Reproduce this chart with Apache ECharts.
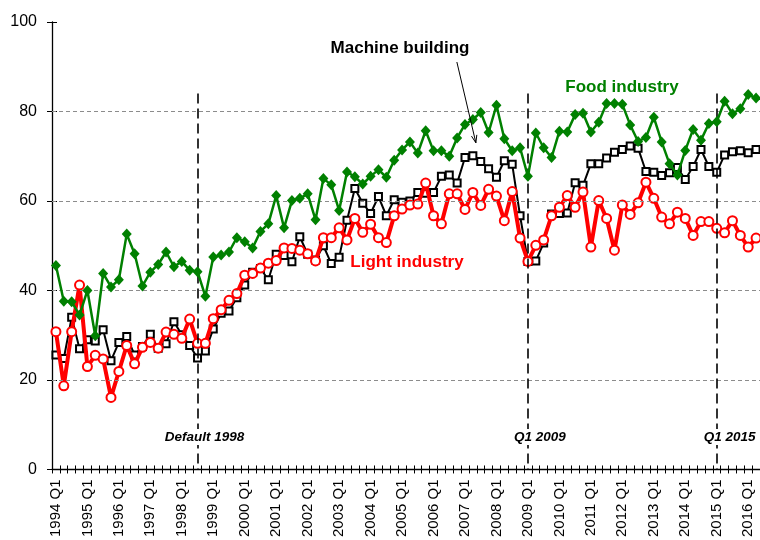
<!DOCTYPE html>
<html><head><meta charset="utf-8">
<script src="https://cdn.jsdelivr.net/npm/echarts@6/dist/echarts.min.js"></script>
<style>html,body{margin:0;padding:0;background:#fff}#c{width:760px;height:540px}</style>
</head><body><div id="c"></div>
<script>
// Quarters 1994 Q1 .. 2016 Q2
const firstYear = 1994, lastYear = 2016, lastQuarter = 2;
const categories = [];
for (let y = firstYear; y <= lastYear; y++) {
  for (let q = 1; q <= 4; q++) {
    if (y === lastYear && q > lastQuarter) break;
    categories.push(y + ' Q' + q);
  }
}

const foodIndustry = [
  45.6, 37.6, 37.5, 34.5, 40.0, 29.9, 43.8, 40.8, 42.4, 52.6,
  48.2, 41.0, 44.1, 45.8, 48.6, 45.3, 46.5, 44.5, 44.2, 38.7,
  47.5, 47.9, 48.6, 51.8, 50.9, 49.5, 53.2, 54.9, 61.2, 54.0,
  60.1, 60.6, 61.6, 55.8, 65.0, 63.6, 57.9, 66.5, 65.4, 63.8,
  65.5, 67.0, 65.3, 69.1, 71.4, 73.2, 70.7, 75.7, 71.2, 71.2,
  70.0, 74.1, 77.1, 78.2, 79.8, 75.3, 81.4, 73.9, 71.2, 71.9,
  65.5, 75.2, 71.9, 69.7, 75.6, 75.4, 79.3, 79.6, 75.4, 77.6,
  81.8, 81.8, 81.6, 77.0, 73.3, 74.2, 78.7, 73.2, 68.3, 65.8,
  71.3, 76.0, 73.6, 77.3, 77.7, 82.3, 79.5, 80.6, 83.8, 83.0
];
const machineBuilding = [
  25.6, 24.8, 34.0, 27.0, 29.0, 28.7, 31.2, 24.3, 28.4, 29.7,
  25.6, 27.5, 30.2, 27.1, 28.1, 33.0, 30.1, 27.7, 24.9, 26.5,
  31.4, 34.9, 35.4, 38.4, 41.2, 44.1, 44.9, 42.4, 48.1, 47.8,
  46.4, 52.0, 48.1, 46.8, 50.0, 46.0, 47.4, 55.7, 62.8, 59.5,
  57.2, 61.0, 56.7, 60.3, 59.7, 60.0, 61.9, 61.7, 61.9, 65.5,
  65.8, 64.0, 69.7, 70.1, 68.8, 67.2, 65.3, 69.0, 68.2, 56.7,
  46.5, 46.6, 50.6, 57.1, 57.2, 57.3, 64.1, 63.5, 68.3, 68.3,
  69.6, 70.9, 71.5, 72.3, 71.8, 66.6, 66.4, 65.7, 66.3, 67.5,
  64.8, 67.7, 71.5, 67.7, 66.4, 70.3, 71.0, 71.2, 70.8, 71.5
];
const lightIndustry = [
  30.8, 18.7, 30.8, 41.2, 23.0, 25.5, 24.7, 16.1, 21.9, 27.7,
  23.6, 27.3, 28.4, 27.1, 30.7, 30.2, 29.3, 33.6, 28.2, 28.2,
  33.7, 35.7, 37.8, 39.3, 43.4, 43.8, 45.0, 46.1, 46.7, 49.5,
  49.4, 49.0, 48.2, 46.6, 51.8, 51.8, 54.0, 51.3, 56.1, 53.0,
  54.8, 51.8, 50.7, 56.7, 58.2, 59.1, 59.3, 64.0, 56.7, 54.9,
  61.6, 61.6, 58.1, 61.9, 59.0, 62.6, 61.1, 55.6, 62.1, 51.7,
  46.5, 50.1, 51.3, 56.7, 58.6, 61.2, 58.6, 62.0, 49.7, 60.1,
  56.1, 49.0, 59.1, 57.0, 59.6, 64.2, 60.6, 56.4, 54.9, 57.5,
  56.1, 52.3, 55.4, 55.4, 53.9, 52.9, 55.6, 52.3, 49.7, 51.7
];

const yTicks = [0, 20, 40, 60, 80, 100];
const gridValues = [20, 40, 60, 80];
const eventLines = [
  { cat: '1998 Q3', label: 'Default 1998', dx: 7 },
  { cat: '2009 Q1', label: 'Q1 2009', dx: 12 },
  { cat: '2015 Q1', label: 'Q1 2015', dx: 13 }
];
const eventTop = 84;

const FONT = '"Liberation Sans", Arial, sans-serif';
const chart = echarts.init(document.getElementById('c'));

const option = {
  animation: false,
  backgroundColor: '#fff',
  grid: { left: 52, right: 0, top: 22, bottom: 68, containLabel: false },
  xAxis: [
    {
      type: 'category', data: categories, boundaryGap: true, position: 'bottom',
      axisLine: { show: true, lineStyle: { color: '#000', width: 1.3 } },
      axisTick: { show: true, interval: 0, length: 4, lineStyle: { color: '#000', width: 1 } },
      axisLabel: { interval: 3, rotate: 90, margin: 10, color: '#000', fontSize: 15, fontFamily: FONT },
      splitLine: { show: false }
    },
    {
      type: 'category', data: categories, boundaryGap: true, position: 'bottom',
      axisLine: { show: false },
      axisTick: { show: true, inside: true, interval: 0, length: 4, lineStyle: { color: '#000', width: 1 } },
      axisLabel: { show: false }, splitLine: { show: false }
    }
  ],
  yAxis: [
    {
      type: 'value', min: 0, max: 100, interval: 20, position: 'left',
      axisLine: { show: true, lineStyle: { color: '#000', width: 1.3 } },
      axisTick: { show: true, length: 5, lineStyle: { color: '#000', width: 1 } },
      axisLabel: { margin: 15, color: '#000', fontSize: 16, fontFamily: FONT },
      splitLine: { show: false }
    },
    {
      type: 'value', min: 0, max: 100, interval: 20, position: 'left',
      axisLine: { show: false },
      axisTick: { show: true, inside: true, length: 5, lineStyle: { color: '#000', width: 1 } },
      axisLabel: { show: false }, splitLine: { show: false }
    }
  ],
  series: [
    {
      name: 'guides', type: 'line', data: [], z: 1, silent: true,
      markLine: {
        silent: true, symbol: 'none', animation: false,
        label: { show: false },
        data: gridValues.map(v => ({ yAxis: v, lineStyle: { color: '#8c8c8c', width: 1, type: [4, 3] } }))
          .concat(eventLines.map(e => [
            { coord: [e.cat, eventTop], lineStyle: { color: '#000', width: 1.6, type: [10, 5] } },
            { coord: [e.cat, 0] }
          ]))
      }
    },
    {
      name: 'Machine building', type: 'line', data: machineBuilding, z: 3,
      symbol: 'emptyRect', symbolSize: 7, showAllSymbol: true,
      lineStyle: { color: '#000', width: 2 },
      itemStyle: { color: '#000', borderColor: '#000', borderWidth: 2 }
    },
    {
      name: 'Light industry', type: 'line', data: lightIndustry, z: 4,
      symbol: 'emptyCircle', symbolSize: 9, showAllSymbol: true,
      lineStyle: { color: '#ff0000', width: 4 },
      itemStyle: { color: '#ff0000', borderColor: '#ff0000', borderWidth: 2.5 }
    },
    {
      name: 'Food industry', type: 'line', data: foodIndustry, z: 5,
      symbol: 'diamond', symbolSize: [10, 11], showAllSymbol: true,
      lineStyle: { color: '#008000', width: 2.5 },
      itemStyle: { color: '#008000' }
    }
  ]
};
chart.setOption(option);

// Annotations
const px = (cat, v) => chart.convertToPixel({ xAxisIndex: 0, yAxisIndex: 0 }, [cat, v]);
const graphics = [];
eventLines.forEach(e => {
  const p = px(e.cat, 0);
  graphics.push({
    type: 'text', x: p[0] + e.dx, y: 437, z: 20,
    style: { text: e.label, font: 'italic bold 13.5px ' + FONT, fill: '#000', align: 'center', verticalAlign: 'middle',
             backgroundColor: '#fff', padding: [1, 2] }
  });
});
const tip = px('2007 Q2', 70.1);
const tipX = tip[0] + 3, tipY = tip[1] - 13;
const startX = tipX - 19, startY = 62;
const ang = Math.atan2(tipY - startY, tipX - startX);
const ah = 8, aw = 0.35;
graphics.push(
  { type: 'text', x: 400, y: 48, z: 20, style: { text: 'Machine building', font: 'bold 17px ' + FONT, fill: '#000', align: 'center', verticalAlign: 'middle' } },
  { type: 'text', x: 622, y: 87, z: 20, style: { text: 'Food industry', font: 'bold 17px ' + FONT, fill: '#008000', align: 'center', verticalAlign: 'middle' } },
  { type: 'text', x: 407, y: 262, z: 20, style: { text: 'Light industry', font: 'bold 17px ' + FONT, fill: '#ff0000', align: 'center', verticalAlign: 'middle' } },
  { type: 'line', z: 20, shape: { x1: startX, y1: startY, x2: tipX, y2: tipY }, style: { stroke: '#000', lineWidth: 1 } },
  { type: 'polyline', z: 20, shape: { points: [
      [tipX - ah * Math.cos(ang - aw), tipY - ah * Math.sin(ang - aw)],
      [tipX, tipY],
      [tipX - ah * Math.cos(ang + aw), tipY - ah * Math.sin(ang + aw)]
    ] }, style: { stroke: '#000', lineWidth: 1, fill: null } }
);
chart.setOption({ graphic: graphics });
</script>
</body></html>
